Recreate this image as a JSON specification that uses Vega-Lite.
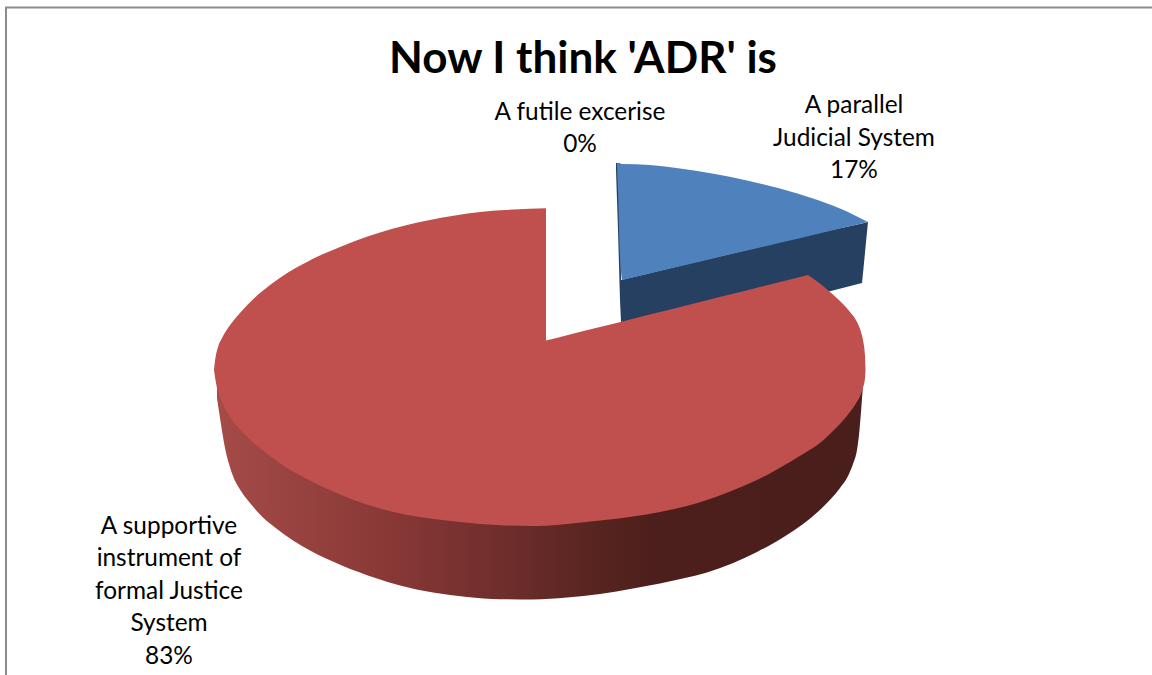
{
  "$schema": "https://vega.github.io/schema/vega-lite/v6.json",
  "autosize": {"type": "none"},
  "width": 1152,
  "height": 675,
  "padding": 0,
  "background": "white",
  "view": {"stroke": null},
  "config": {"text": {"font": "Lato"}},
  "datasets": {
    "frame": [
      {"across": 6, "down": 675},
      {"across": 6, "down": 7.5},
      {"across": 1152, "down": 7.5}
    ],
    "redWall": [
      {"across": 217, "down": 372, "lower": 398},
      {"across": 218, "down": 372, "lower": 405},
      {"across": 220, "down": 372, "lower": 418},
      {"across": 222, "down": 372, "lower": 431},
      {"across": 225, "down": 372, "lower": 448},
      {"across": 229, "down": 372, "lower": 464},
      {"across": 233, "down": 372, "lower": 476},
      {"across": 241, "down": 372, "lower": 491},
      {"across": 250, "down": 372, "lower": 503},
      {"across": 263, "down": 372, "lower": 517.5},
      {"across": 277, "down": 372, "lower": 529},
      {"across": 293, "down": 372, "lower": 540.5},
      {"across": 310, "down": 372, "lower": 550.5},
      {"across": 326, "down": 372, "lower": 558.5},
      {"across": 343, "down": 372, "lower": 566},
      {"across": 377, "down": 372, "lower": 578.5},
      {"across": 400, "down": 372, "lower": 585.5},
      {"across": 433, "down": 372, "lower": 592.5},
      {"across": 467, "down": 372, "lower": 597},
      {"across": 500, "down": 372, "lower": 599.2},
      {"across": 533, "down": 372, "lower": 599.5},
      {"across": 567, "down": 372, "lower": 597.5},
      {"across": 600, "down": 372, "lower": 594},
      {"across": 633, "down": 372, "lower": 588.5},
      {"across": 660, "down": 372, "lower": 583.5},
      {"across": 685, "down": 372, "lower": 578},
      {"across": 707, "down": 372, "lower": 572.5},
      {"across": 732, "down": 372, "lower": 563.5},
      {"across": 757, "down": 372, "lower": 552},
      {"across": 790, "down": 372, "lower": 533},
      {"across": 807, "down": 372, "lower": 521},
      {"across": 823, "down": 372, "lower": 507},
      {"across": 840, "down": 372, "lower": 488},
      {"across": 848, "down": 372, "lower": 476},
      {"across": 853, "down": 372, "lower": 464},
      {"across": 857, "down": 372, "lower": 450},
      {"across": 859, "down": 372, "lower": 435},
      {"across": 861, "down": 372, "lower": 412},
      {"across": 863, "down": 372, "lower": 385},
      {"across": 864, "down": 372, "lower": 372}
    ],
    "blueWall": [
      {"across": 616, "down": 163, "lower": 170},
      {"across": 618, "down": 163, "lower": 230},
      {"across": 620, "down": 163, "lower": 300},
      {"across": 621, "down": 280, "lower": 322},
      {"across": 700, "down": 261, "lower": 330},
      {"across": 827, "down": 231, "lower": 292},
      {"across": 862, "down": 223.4, "lower": 283},
      {"across": 864, "down": 223, "lower": 263},
      {"across": 866, "down": 222.5, "lower": 242},
      {"across": 868, "down": 222, "lower": 222}
    ],
    "blueTop": [
      {"section": "edge", "across": 617, "down": 163, "lower": 165},
      {"section": "edge", "across": 618, "down": 163, "lower": 190},
      {"section": "edge", "across": 620, "down": 163.5, "lower": 255},
      {"section": "edge", "across": 622, "down": 164, "lower": 280},
      {"section": "face", "across": 622, "down": 164, "lower": 280},
      {"section": "face", "across": 650, "down": 165, "lower": 273.4},
      {"section": "face", "across": 680, "down": 168.5, "lower": 266.3},
      {"section": "face", "across": 715, "down": 174, "lower": 258},
      {"section": "face", "across": 747, "down": 180.5, "lower": 250.5},
      {"section": "face", "across": 780, "down": 188.5, "lower": 242.7},
      {"section": "face", "across": 813, "down": 198.5, "lower": 234.9},
      {"section": "face", "across": 840, "down": 208.5, "lower": 228.6},
      {"section": "face", "across": 868, "down": 222, "lower": 222}
    ],
    "redTop": [
      {"section": "left", "across": 214, "down": 370, "lower": 370},
      {"section": "left", "across": 215, "down": 361, "lower": 377},
      {"section": "left", "across": 216, "down": 355, "lower": 383},
      {"section": "left", "across": 218, "down": 347, "lower": 392},
      {"section": "left", "across": 222, "down": 338, "lower": 402},
      {"section": "left", "across": 226, "down": 331, "lower": 410},
      {"section": "left", "across": 232, "down": 322.5, "lower": 420},
      {"section": "left", "across": 240, "down": 313, "lower": 429.5},
      {"section": "left", "across": 255, "down": 297.5, "lower": 444},
      {"section": "left", "across": 270, "down": 285, "lower": 456},
      {"section": "left", "across": 288, "down": 272.5, "lower": 468.5},
      {"section": "left", "across": 305, "down": 263, "lower": 478},
      {"section": "left", "across": 322, "down": 254.5, "lower": 486.5},
      {"section": "left", "across": 340, "down": 247, "lower": 494.5},
      {"section": "left", "across": 355, "down": 241, "lower": 500.5},
      {"section": "left", "across": 380, "down": 232.5, "lower": 508.5},
      {"section": "left", "across": 405, "down": 225.5, "lower": 514.5},
      {"section": "left", "across": 430, "down": 220, "lower": 518.5},
      {"section": "left", "across": 455, "down": 215.5, "lower": 521.5},
      {"section": "left", "across": 480, "down": 212, "lower": 524},
      {"section": "left", "across": 505, "down": 210, "lower": 525.5},
      {"section": "left", "across": 530, "down": 208.8, "lower": 526},
      {"section": "left", "across": 546, "down": 208.2, "lower": 525.8},
      {"section": "middle", "across": 546, "down": 340.5, "lower": 525.8},
      {"section": "middle", "across": 567, "down": 335.2, "lower": 524},
      {"section": "middle", "across": 600, "down": 327, "lower": 520.5},
      {"section": "middle", "across": 633, "down": 318.7, "lower": 516.5},
      {"section": "middle", "across": 660, "down": 312, "lower": 512},
      {"section": "middle", "across": 685, "down": 305.7, "lower": 506.5},
      {"section": "middle", "across": 707, "down": 300.2, "lower": 500},
      {"section": "middle", "across": 730, "down": 294.5, "lower": 491.5},
      {"section": "middle", "across": 757, "down": 287.7, "lower": 480},
      {"section": "middle", "across": 790, "down": 279.5, "lower": 462},
      {"section": "middle", "across": 808, "down": 275, "lower": 451},
      {"section": "right", "across": 808, "down": 275, "lower": 451},
      {"section": "right", "across": 823, "down": 286, "lower": 440.5},
      {"section": "right", "across": 830, "down": 292, "lower": 434},
      {"section": "right", "across": 843, "down": 304, "lower": 420.5},
      {"section": "right", "across": 850, "down": 312, "lower": 412},
      {"section": "right", "across": 855, "down": 318.5, "lower": 405},
      {"section": "right", "across": 858, "down": 324, "lower": 400},
      {"section": "right", "across": 861, "down": 332, "lower": 394},
      {"section": "right", "across": 863, "down": 340, "lower": 388},
      {"section": "right", "across": 865, "down": 356, "lower": 378},
      {"section": "right", "across": 865.5, "down": 370, "lower": 370}
    ],
    "labels": [
      {"name": "A futile excerise", "share": 0, "across": 580, "down": 119.5},
      {"name": "A parallel\nJudicial System", "share": 17, "across": 854, "down": 113},
      {"name": "A supportive\ninstrument of\nformal Justice\nSystem", "share": 83, "across": 169, "down": 533.5}
    ],
    "heading": [
      {"name": "Now I think 'ADR' is", "across": 583, "down": 73}
    ]
  },
  "encoding": {
    "x": {"field": "across", "type": "quantitative", "axis": null, "scale": {"domain": [0, 1152], "nice": false, "zero": false}},
    "y": {"field": "down", "type": "quantitative", "axis": null, "scale": {"domain": [675, 0], "nice": false, "zero": false}}
  },
  "layer": [
    {
      "data": {"name": "frame"},
      "mark": {"type": "line", "color": "#8c8c8c", "strokeWidth": 2},
      "encoding": {"order": {"value": 0}}
    },
    {
      "data": {"name": "redWall"},
      "mark": {
        "type": "area",
        "interpolate": "monotone",
        "color": {
          "gradient": "linear", "x1": 0, "x2": 1, "y1": 0, "y2": 0,
          "stops": [
            {"offset": 0, "color": "#a54b48"},
            {"offset": 0.3, "color": "#843634"},
            {"offset": 0.44, "color": "#6e2e2c"},
            {"offset": 0.59, "color": "#57241f"},
            {"offset": 0.68, "color": "#4c1f1c"},
            {"offset": 1, "color": "#4a1e1b"}
          ]
        }
      },
      "encoding": {"y2": {"field": "lower"}}
    },
    {
      "data": {"name": "blueWall"},
      "mark": {"type": "area", "color": "#254061"},
      "encoding": {"y2": {"field": "lower"}}
    },
    {
      "data": {"name": "blueTop"},
      "mark": {"type": "area", "interpolate": "monotone", "color": "#4f81bd"},
      "encoding": {"y2": {"field": "lower"}, "detail": {"field": "section"}}
    },
    {
      "data": {"name": "redTop"},
      "mark": {"type": "area", "interpolate": "monotone", "color": "#c0504d"},
      "encoding": {"y2": {"field": "lower"}, "detail": {"field": "section"}}
    },
    {
      "data": {"name": "labels"},
      "transform": [{"calculate": "datum.name + '\\n' + datum.share + '%'", "as": "caption"}],
      "mark": {"type": "text", "align": "center", "baseline": "alphabetic", "fontSize": 24.4, "lineBreak": "\n", "lineHeight": 32.5, "color": "#000000"},
      "encoding": {"text": {"field": "caption"}}
    },
    {
      "data": {"name": "heading"},
      "mark": {"type": "text", "align": "center", "baseline": "alphabetic", "fontSize": 44, "fontWeight": "bold", "color": "#000000"},
      "encoding": {"text": {"field": "name"}}
    }
  ]
}
